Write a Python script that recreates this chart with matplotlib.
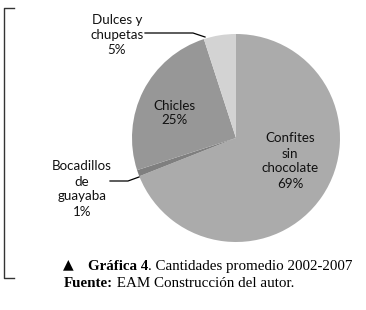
import matplotlib
matplotlib.use('Agg')
import matplotlib.pyplot as plt

# datos de la gráfica
categorias = ['Confites\nsin\nchocolate', 'Bocadillos\nde\nguayaba', 'Chicles', 'Dulces y\nchupetas']
valores = [69, 1, 25, 5]
colores = ['#ababab', '#7f7f7f', '#979797', '#d3d3d3']

titulo = 'Gráfica 4'
titulo_resto = '. Cantidades promedio 2002-2007'
fuente = 'Fuente:'
fuente_resto = ' EAM Construcción del autor.'

W, H = 366, 310

def drawp():
    fig = plt.figure(figsize=(W / 100, H / 100), dpi=100)
    ax = fig.add_axes([0, 0, 1, 1])
    ax.pie(valores, colors=colores, startangle=90, counterclock=False,
           center=(236, H - 138), radius=104,
           wedgeprops={'linewidth': 0})
    ax.set_xlim(0, W)
    ax.set_ylim(0, H)
    ax.set_aspect('equal')
    ax.axis('off')

    fs = 9.6
    sans = 'Lato'
    ls = 1.3
    # etiquetas de las porciones
    ax.text(290, H - 161, categorias[0] + '\n%d%%' % valores[0], ha='center', va='center',
            fontsize=fs, family=sans, linespacing=ls, color='#111111')
    ax.text(82, H - 189, categorias[1] + '\n%d%%' % valores[1], ha='center', va='center',
            fontsize=fs, family=sans, linespacing=ls, color='#111111')
    ax.text(174, H - 113, categorias[2] + '\n%d%%' % valores[2], ha='center', va='center',
            fontsize=fs, family=sans, linespacing=ls, color='#111111')
    ax.text(117, H - 35, categorias[3] + '\n%d%%' % valores[3], ha='center', va='center',
            fontsize=fs, family=sans, linespacing=ls, color='#111111')

    # líneas guía
    ax.plot([145, 193, 205], [H - 33, H - 33, H - 37], color='black', lw=0.9)
    ax.plot([110, 128, 139], [H - 181, H - 181, H - 177], color='black', lw=0.9)

    # corchete izquierdo
    ax.plot([14, 4, 4, 14], [H - 8, H - 8, H - 278, H - 278], color='#333333', lw=1.0)

    # pie de figura
    serif = 'Liberation Serif'
    fsc = 10.8
    ax.text(63, H - 264, '▲', fontsize=10, family='DejaVu Sans', va='center', color='black')
    t1 = ax.text(88, H - 270, titulo, fontsize=fsc, family=serif, weight='bold', va='baseline')
    ax.annotate(titulo_resto, xy=(1, 0), xycoords=t1, va='bottom', fontsize=fsc, family=serif)
    t2 = ax.text(64, H - 287, fuente, fontsize=fsc, family=serif, weight='bold', va='baseline')
    ax.annotate(fuente_resto, xy=(1, 0), xycoords=t2, va='bottom', fontsize=fsc, family=serif)

    fig.savefig('out.png', dpi=100)

if __name__ == "__main__":
    drawp()
